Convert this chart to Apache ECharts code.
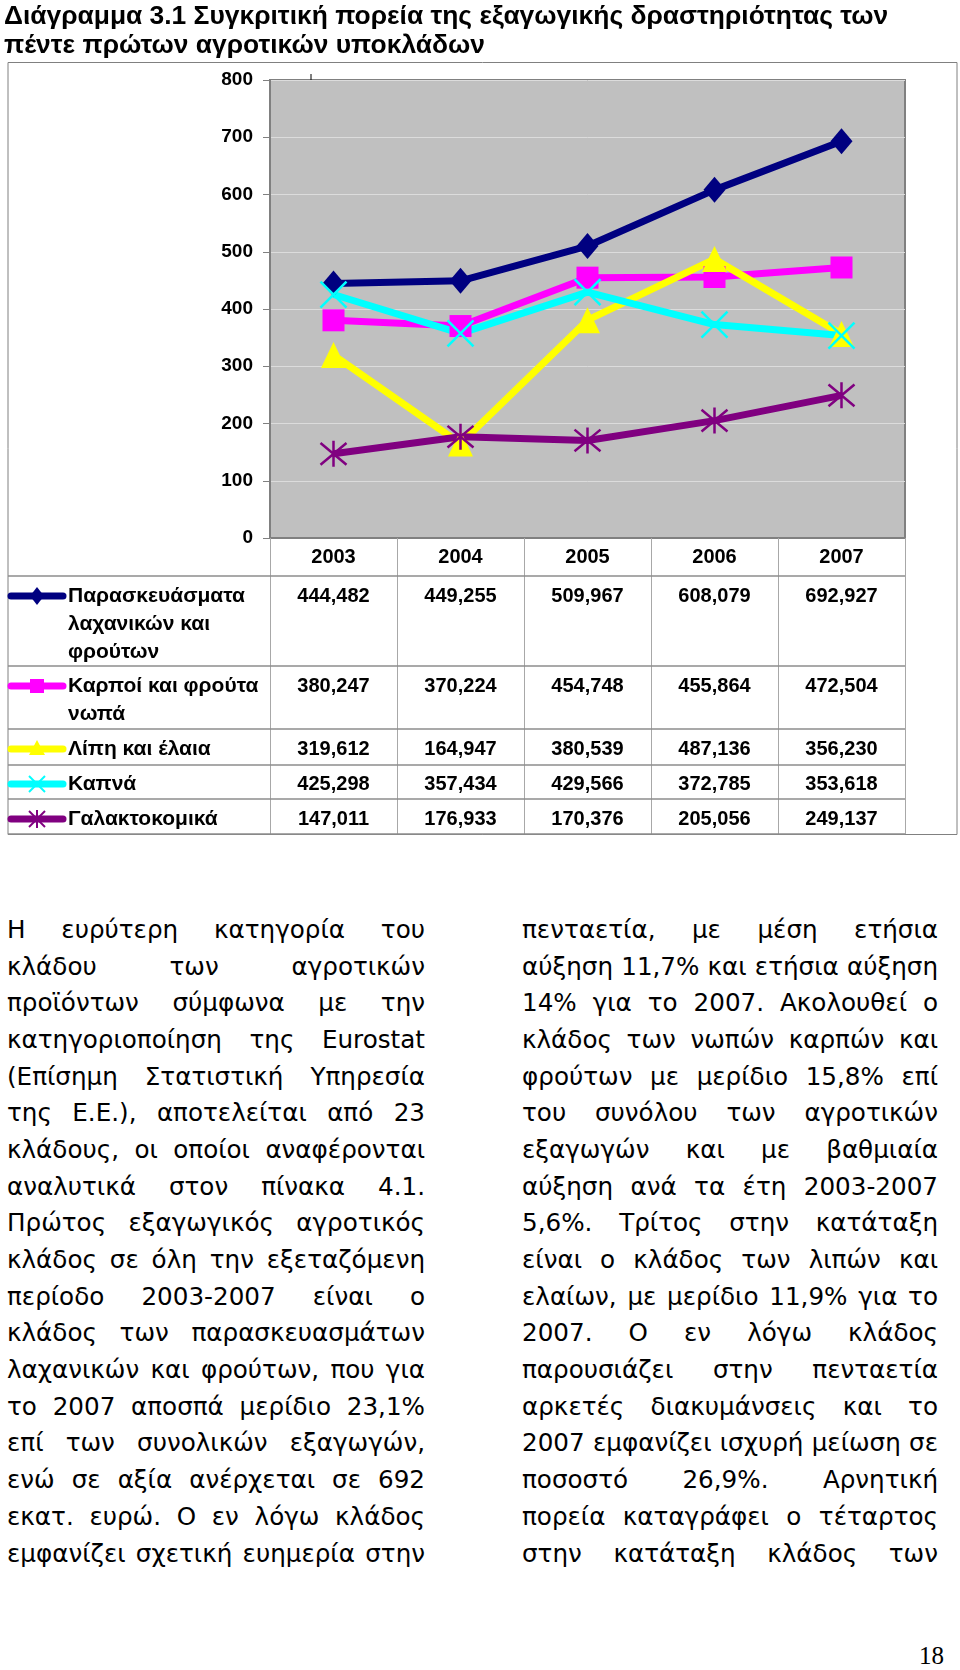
<!DOCTYPE html>
<html>
<head>
<meta charset="utf-8">
<script src="https://cdn.jsdelivr.net/npm/echarts@6/dist/echarts.min.js"></script>
<style>
  html, body { margin: 0; padding: 0; background: #ffffff; }
  #chart { position: absolute; left: 0; top: 0; width: 960px; height: 850px; }
  .col { position: absolute; font-family: 'DejaVu Sans', Verdana, sans-serif; font-size: 22px; line-height: 36.7px; color: #000; }
  .col div { text-align: justify; text-align-last: justify; white-space: nowrap; height: 36.7px; }
  #left { left: 7px; width: 418px; }
  #right { left: 522px; width: 416px; }
  #page { position: absolute; left: 896px; width: 48px; top: 1642px; text-align: right; font-family: 'Liberation Serif', 'DejaVu Serif', serif; font-size: 25px; color: #000; }
</style>
</head>
<body>
<div id="chart"></div>
<div id="left" class="col"></div>
<div id="right" class="col"></div>
<div id="page">18</div>
<script>
// ---------- data ----------
const titleText = 'Διάγραμμα 3.1 Συγκριτική πορεία της εξαγωγικής δραστηριότητας των\nπέντε πρώτων αγροτικών υποκλάδων';
const years = ['2003', '2004', '2005', '2006', '2007'];
const seriesNames = ['Παρασκευάσματα λαχανικών και φρούτων', 'Καρποί και φρούτα νωπά', 'Λίπη και έλαια', 'Καπνά', 'Γαλακτοκομικά'];
const legendLines = [['Παρασκευάσματα', 'λαχανικών και', 'φρούτων'], ['Καρποί και φρούτα', 'νωπά'], ['Λίπη και έλαια'], ['Καπνά'], ['Γαλακτοκομικά']];
const prepared = [444.482, 449.255, 509.967, 608.079, 692.927];
const fresh = [380.247, 370.224, 454.748, 455.864, 472.504];
const fats = [319.612, 164.947, 380.539, 487.136, 356.230];
const tobacco = [425.298, 357.434, 429.566, 372.785, 353.618];
const dairy = [147.011, 176.933, 170.376, 205.056, 249.137];
const yMin = 0, yMax = 800, yStep = 100;

const leftLines = [
  'Η ευρύτερη κατηγορία του',
  'κλάδου των αγροτικών',
  'προϊόντων σύμφωνα με την',
  'κατηγοριοποίηση της Eurostat',
  '(Επίσημη Στατιστική Υπηρεσία',
  'της Ε.Ε.), αποτελείται από 23',
  'κλάδους, οι οποίοι αναφέρονται',
  'αναλυτικά στον πίνακα 4.1.',
  'Πρώτος εξαγωγικός αγροτικός',
  'κλάδος σε όλη την εξεταζόμενη',
  'περίοδο 2003-2007 είναι ο',
  'κλάδος των παρασκευασμάτων',
  'λαχανικών και φρούτων, που για',
  'το 2007 αποσπά μερίδιο 23,1%',
  'επί των συνολικών εξαγωγών,',
  'ενώ σε αξία ανέρχεται σε 692',
  'εκατ. ευρώ. Ο εν λόγω κλάδος',
  'εμφανίζει σχετική ευημερία στην'
];
const rightLines = [
  'πενταετία, με μέση ετήσια',
  'αύξηση 11,7% και ετήσια αύξηση',
  '14% για το 2007. Ακολουθεί ο',
  'κλάδος των νωπών καρπών και',
  'φρούτων με μερίδιο 15,8% επί',
  'του συνόλου των αγροτικών',
  'εξαγωγών και με βαθμιαία',
  'αύξηση ανά τα έτη 2003-2007',
  '5,6%. Τρίτος στην κατάταξη',
  'είναι ο κλάδος των λιπών και',
  'ελαίων, με μερίδιο 11,9% για το',
  '2007. Ο εν λόγω κλάδος',
  'παρουσιάζει στην πενταετία',
  'αρκετές διακυμάνσεις και το',
  '2007 εμφανίζει ισχυρή μείωση σε',
  'ποσοστό 26,9%. Αρνητική',
  'πορεία καταγράφει ο τέταρτος',
  'στην κατάταξη κλάδος των'
];

// ---------- text columns ----------
function fillCol(id, lines) {
  const el = document.getElementById(id);
  lines.forEach(t => { const d = document.createElement('div'); d.textContent = t; el.appendChild(d); });
}
fillCol('left', leftLines);
fillCol('right', rightLines);
(function fitFont() {
  const ctx = document.createElement('canvas').getContext('2d');
  ctx.font = "22px 'DejaVu Sans'";
  let f = Infinity;
  [[leftLines, 418], [rightLines, 416]].forEach(([lines, w]) => lines.forEach(t => {
    const nat = ctx.measureText(t).width;
    f = Math.min(f, 22 * (w - 1) / nat);
  }));
  const lh = 36.7;
  // baseline-centred placement: x-height centre of first line at y = 932
  const xhCenter = (lh - f * 1.164) / 2 + f * 0.928 - f * 0.547 / 2;
  ['left', 'right'].forEach(id => {
    const el = document.getElementById(id);
    el.style.fontSize = f + 'px';
    el.style.top = (932 - xhCenter) + 'px';
  });
})();

// ---------- chart ----------
const allData = [prepared, fresh, fats, tobacco, dairy];
const colors = ['#000080', '#FF00FF', '#FFFF00', '#00FFFF', '#800080'];
const symbols = ['diamond', 'rect', 'triangle', 'path://M0,0 L10,10 M10,0 L0,10', 'path://M0,0 L10,10 M10,0 L0,10 M5,-1 L5,11'];
const symSizes = [[22, 26], 22, [25, 26], 26, 26];
const FONT = "'Liberation Sans', Arial, sans-serif";

const chart = echarts.init(document.getElementById('chart'), null, { renderer: 'canvas' });

const series = allData.map((d, i) => {
  const stroked = i >= 3;
  return {
    name: seriesNames[i],
    type: 'line',
    data: d,
    symbol: symbols[i],
    symbolSize: symSizes[i],
    showAllSymbol: true,
    lineStyle: { color: colors[i], width: 7 },
    itemStyle: stroked
      ? { color: 'rgba(0,0,0,0)', borderColor: colors[i], borderWidth: 2.5 }
      : { color: colors[i], borderWidth: 0 },
    emphasis: { disabled: true },
    animation: false
  };
});

const option = {
  animation: false,
  title: {
    text: titleText,
    left: 4, top: 2, padding: 0,
    textStyle: { fontFamily: FONT, fontSize: 26.4, fontWeight: 'bold', color: '#000', lineHeight: 29 }
  },
  grid: {
    left: 270, top: 80, width: 635, height: 458,
    show: true, backgroundColor: '#C0C0C0', borderColor: '#808080', borderWidth: 2
  },
  xAxis: {
    type: 'category', data: years, boundaryGap: true,
    axisLine: { lineStyle: { color: '#808080', width: 2 } },
    axisTick: { show: true, interval: 0, length: 296, lineStyle: { color: '#A8A8A8', width: 1 } },
    axisLabel: { interval: 0, margin: 19, verticalAlign: 'middle', fontFamily: FONT, fontSize: 20, fontWeight: 'bold', color: '#000' },
    splitLine: { show: false }
  },
  yAxis: {
    type: 'value', min: yMin, max: yMax, interval: yStep,
    axisLine: { show: true, lineStyle: { color: '#808080', width: 1 } },
    axisTick: { show: true, length: 7, lineStyle: { color: '#808080' } },
    axisLabel: { margin: 17, fontFamily: FONT, fontSize: 19, fontWeight: 'bold', color: '#000' },
    splitLine: { show: true, lineStyle: { color: '#DCDCDC', width: 1 } }
  },
  series: series
};
chart.setOption(option);

// ---------- data table (built from the same arrays) ----------
const rowY = [596, 686, 749, 784, 819];
const hLines = [576, 666, 729, 765, 799, 834];
const fmt = v => v.toFixed(3).replace('.', ',');
const g = [];
g.push({ type: 'rect', shape: { x: 8, y: 62.5, width: 949, height: 772 }, style: { fill: null, stroke: '#808080', lineWidth: 1 }, z: 0 });
g.push({ type: 'line', shape: { x1: 311, y1: 74, x2: 311, y2: 80 }, style: { stroke: '#000', lineWidth: 1 }, z: 10 });
hLines.forEach(y => g.push({ type: 'line', shape: { x1: 8, y1: y, x2: 905, y2: y }, style: { stroke: '#8C8C8C', lineWidth: 1.5 }, z: 5 }));
allData.forEach((d, i) => {
  d.forEach((v, j) => {
    const x = chart.convertToPixel({ xAxisIndex: 0 }, j);
    g.push({ type: 'text', x: x, y: rowY[i], style: { text: fmt(v), fontFamily: FONT, fontSize: 20, fontWeight: 'bold', fill: '#000', align: 'center', verticalAlign: 'middle' }, z: 6 });
  });
  const y = rowY[i], cx = 37, c = colors[i];
  g.push({ type: 'line', shape: { x1: 11, y1: y, x2: 63, y2: y }, style: { stroke: c, lineWidth: 7, lineCap: 'round' }, z: 6 });
  if (i === 0) g.push({ type: 'polygon', shape: { points: [[cx, y - 9], [cx + 7, y], [cx, y + 9], [cx - 7, y]] }, style: { fill: c }, z: 7 });
  if (i === 1) g.push({ type: 'rect', shape: { x: cx - 7, y: y - 7, width: 14, height: 14 }, style: { fill: c }, z: 7 });
  if (i === 2) g.push({ type: 'polygon', shape: { points: [[cx, y - 9], [cx + 8, y + 6], [cx - 8, y + 6]] }, style: { fill: c }, z: 7 });
  if (i >= 3) {
    g.push({ type: 'line', shape: { x1: cx - 8, y1: y - 8, x2: cx + 8, y2: y + 8 }, style: { stroke: c, lineWidth: 2 }, z: 7 });
    g.push({ type: 'line', shape: { x1: cx + 8, y1: y - 8, x2: cx - 8, y2: y + 8 }, style: { stroke: c, lineWidth: 2 }, z: 7 });
  }
  if (i === 4) g.push({ type: 'line', shape: { x1: cx, y1: y - 9, x2: cx, y2: y + 9 }, style: { stroke: c, lineWidth: 2 }, z: 7 });
  g.push({ type: 'text', x: 68, y: y - 14, style: { text: legendLines[i].join('\n'), fontFamily: FONT, fontSize: 21, fontWeight: 'bold', fill: '#000', lineHeight: 28, align: 'left', verticalAlign: 'top' }, z: 6 });
});
chart.setOption({ graphic: { elements: g } });
</script>
</body>
</html>
